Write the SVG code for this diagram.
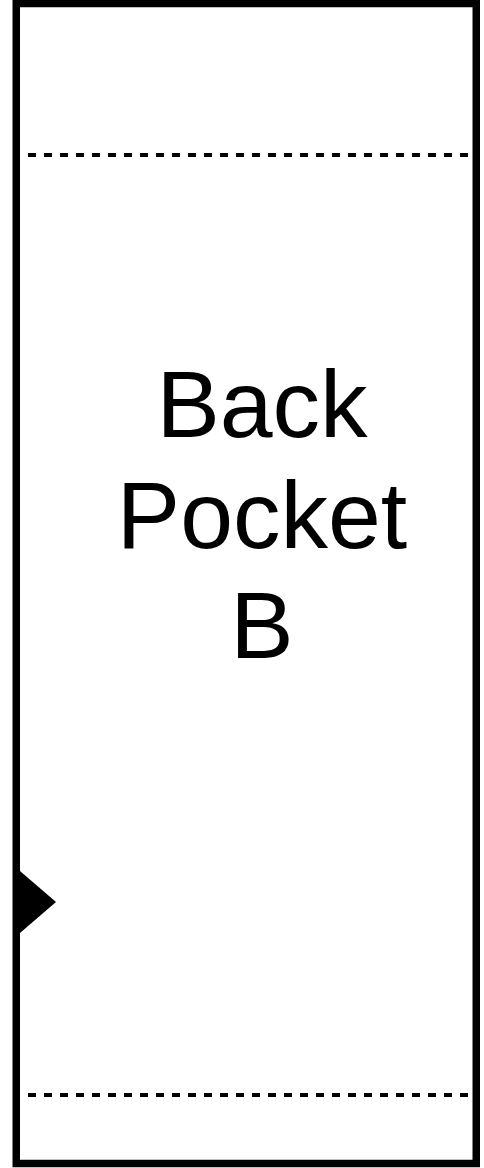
<svg xmlns="http://www.w3.org/2000/svg" width="484" height="1168" viewBox="0 0 484 1168">
<style>
.border{fill:#fff;stroke:#000;stroke-width:7.5}
.fold{stroke:#000;stroke-width:4;stroke-dasharray:8 8;fill:none}
.label{font-family:"Liberation Sans",Arial,sans-serif;font-size:95px;fill:#000;text-anchor:middle}
</style>
<rect width="484" height="1168" fill="#fff"/>
<g id="pocket">
<rect class="border" x="16.25" y="3.5" width="460" height="1160"/>
<line class="fold" x1="28" y1="155" x2="470" y2="155"/>
<line class="fold" x1="28" y1="1095" x2="470" y2="1095"/>
<polygon points="13,865 56,902 13,939" fill="#000"/>
<text class="label" x="262" y="437">Back</text>
<text class="label" x="262" y="548">Pocket</text>
<text class="label" x="262" y="658">B</text>
</g>
</svg>
